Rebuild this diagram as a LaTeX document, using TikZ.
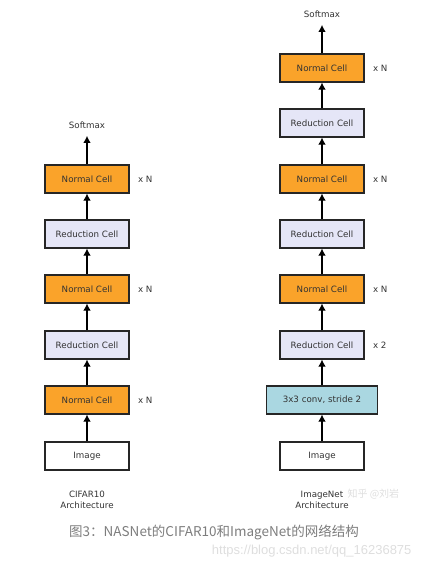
\documentclass[tikz,border=0pt]{standalone}
\usepackage{fontspec}
\setmainfont{DejaVu Sans}
\newfontfamily\cjkfont{Noto Sans CJK SC}
\newfontfamily\wmfont{Liberation Sans}
\definecolor{cellorange}{RGB}{250, 163, 42}
\definecolor{redlavender}{RGB}{229, 230, 247}
\definecolor{convblue}{RGB}{170, 215, 225}
\definecolor{capgray}{RGB}{125, 125, 125}
\definecolor{wmgray}{RGB}{222, 222, 222}
\usetikzlibrary{arrows.meta, positioning}

\begin{document}
\begin{tikzpicture}[x=1pt, y=-1pt,
    cell/.style={draw=black!85, line width=1.1pt, minimum width=84pt,
                 minimum height=28pt, text=black!80,
                 font=\fontsize{8.7}{10}\selectfont},
    flow/.style={-{Latex[length=7pt, width=7.5pt]}, line width=1.1pt},
    lbl/.style={text=black!80, align=center, font=\fontsize{8.7}{11}\selectfont},
    rep/.style={text=black!80, font=\fontsize{8.7}{10}\selectfont, right=5pt of #1}]
    \useasboundingbox (0,0) rectangle (423,563);
    % CIFAR10 column
    \foreach \i/\name/\col/\yy in {
        0/Image/white/456,
        1/Normal Cell/cellorange/400,
        2/Reduction Cell/redlavender/345,
        3/Normal Cell/cellorange/289,
        4/Reduction Cell/redlavender/234,
        5/Normal Cell/cellorange/179
    } {
        \node[cell, fill=\col] (l\i) at (87, \yy) {\name};
    }
    \node[lbl] (lsoft) at (87, 125) {Softmax};
    \foreach \i in {1,...,5} {
        \pgfmathtruncatemacro\j{\i-1}
        \draw[flow] (l\j) -- (l\i);
    }
    \draw[flow, shorten >=4pt] (l5) -- (lsoft);
    \foreach \i in {1,3,5} {
        \node[rep=l\i] {x N};
    }
    \node[lbl] (lname) at (87, 500) {CIFAR10\\Architecture};
    % ImageNet column
    \foreach \i/\name/\col/\yy in {
        0/Image/white/456,
        2/Reduction Cell/redlavender/345,
        3/Normal Cell/cellorange/289,
        4/Reduction Cell/redlavender/234,
        5/Normal Cell/cellorange/179,
        6/Reduction Cell/redlavender/123,
        7/Normal Cell/cellorange/68
    } {
        \node[cell, fill=\col] (r\i) at (322, \yy) {\name};
    }
    \node[cell, fill=convblue, minimum width=111pt] (r1) at (322, 400) {3x3 conv, stride 2};
    \node[lbl] (rsoft) at (322, 14) {Softmax};
    \foreach \i in {1,...,7} {
        \pgfmathtruncatemacro\j{\i-1}
        \draw[flow] (r\j) -- (r\i);
    }
    \draw[flow, shorten >=4pt] (r7) -- (rsoft);
    \foreach \i in {3,5,7} {
        \node[rep=r\i] {x N};
    }
    \node[rep=r2] {x 2};
    \node[lbl] (rname) at (322, 500) {ImageNet\\Architecture};
    % caption and watermarks
    \node[text=wmgray, font=\cjkfont\fontsize{10}{12}\selectfont, anchor=west] (zhwm) at (344, 494) {知乎 @刘岩};
    \node[text=capgray, font=\cjkfont\fontsize{13.5}{15}\selectfont] (caption) at (214, 532)
        {图3：NASNet的CIFAR10和ImageNet的网络结构};
    \node[text=wmgray, font=\wmfont\fontsize{13}{15}\selectfont, anchor=east] (csdnwm) at (415, 551)
        {https://blog.csdn.net/qq\_16236875};
\end{tikzpicture}
\end{document}
